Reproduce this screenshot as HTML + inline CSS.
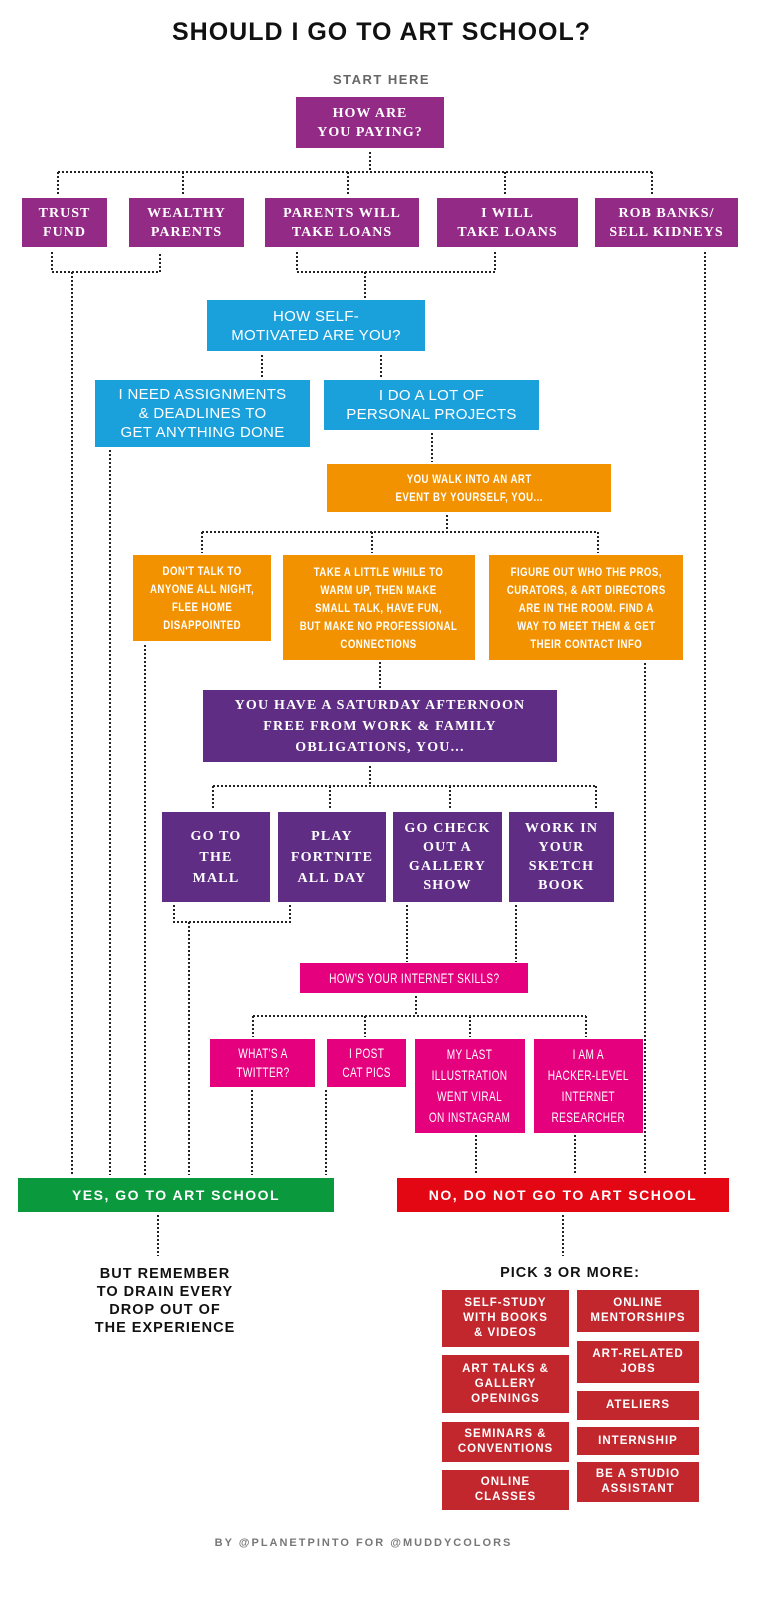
<!DOCTYPE html>
<html><head><meta charset="utf-8"><style>
*{margin:0;padding:0;box-sizing:border-box}
body{width:763px;height:1600px;background:#fff;position:relative;overflow:hidden;font-family:"Liberation Sans",sans-serif}
.b{position:absolute;display:flex;align-items:center;justify-content:center;text-align:center;color:#fff;text-transform:uppercase}
.b>span{display:inline-block;white-space:nowrap}
.p{background:#932a85;font-family:"Liberation Serif",serif;font-weight:bold;font-size:14px;line-height:19px;letter-spacing:1px}
.v{background:#5f2d84;font-family:"Liberation Serif",serif;font-weight:bold;font-size:14px;line-height:21px;letter-spacing:1.2px}
.c{background:#1aa1dc;font-size:15px;line-height:19px;letter-spacing:.3px}
.o{background:#f39200;font-weight:bold;font-size:12px;line-height:18px;letter-spacing:.6px}
.o>span{transform:scaleX(.8)}
.k{background:#e5007e;font-size:14px;line-height:19px;letter-spacing:.5px}
.k>span{transform:scaleX(.72)}
.r{background:#c1272d;font-weight:bold;font-size:11.5px;line-height:15px;letter-spacing:1px}
.t{position:absolute;text-align:center;font-weight:bold}
svg{position:absolute;left:0;top:0}
</style></head><body>
<div class="t" style="left:0;width:763px;top:18px;font-size:25px;letter-spacing:1px;color:#111">SHOULD I GO TO ART SCHOOL?</div>
<div class="t" style="left:0;width:763px;top:72px;font-size:13px;letter-spacing:1.5px;color:#666">START HERE</div>
<svg width="763" height="1600" fill="none" stroke="#222" stroke-width="2" stroke-dasharray="2 2">
<path d="M370 152V172M58 172H652M58 172V196M183 172V196M348 172V196M505 172V196M652 172V196"/>
<path d="M52 252V272H160V252M72 272V1175M297 252V272H495V252M365 272V298M705 252V1175"/>
<path d="M262 355V378M381 355V378M110 450V1175M432 433V462"/>
<path d="M447 515V532M202 532H598M202 532V553M372 532V553M598 532V553M145 645V1175M645 663V1175M380 662V688"/>
<path d="M370 766V786M213 786H596M213 786V810M330 786V810M450 786V810M596 786V810"/>
<path d="M174 905V922H290V905M189 922V1175M407 905V962M516 905V962"/>
<path d="M416 996V1016M253 1016H586M253 1016V1037M365 1016V1037M470 1016V1037M586 1016V1037"/>
<path d="M252 1090V1175M326 1090V1175M476 1135V1173M575 1135V1173M158 1215V1256M563 1215V1256"/>
</svg>
<div class="b p" style="left:296px;top:97px;width:148px;height:51px">How are<br>you paying?</div>
<div class="b p" style="left:22px;top:198px;width:85px;height:49px">Trust<br>fund</div>
<div class="b p" style="left:129px;top:198px;width:115px;height:49px">Wealthy<br>parents</div>
<div class="b p" style="left:265px;top:198px;width:154px;height:49px">Parents will<br>take loans</div>
<div class="b p" style="left:437px;top:198px;width:141px;height:49px">I will<br>take loans</div>
<div class="b p" style="left:595px;top:198px;width:143px;height:49px">Rob banks/<br>sell kidneys</div>
<div class="b c" style="left:207px;top:300px;width:218px;height:51px">How self-<br>motivated are you?</div>
<div class="b c" style="left:95px;top:380px;width:215px;height:67px">I need assignments<br>&amp; deadlines to<br>get anything done</div>
<div class="b c" style="left:324px;top:380px;width:215px;height:50px">I do a lot of<br>personal projects</div>
<div class="b o" style="left:327px;top:464px;width:284px;height:48px"><span>You walk into an art<br>event by yourself, you...</span></div>
<div class="b o" style="left:133px;top:555px;width:138px;height:86px"><span>Don't talk to<br>anyone all night,<br>flee home<br>disappointed</span></div>
<div class="b o" style="left:283px;top:555px;width:192px;height:105px"><span>Take a little while to<br>warm up, then make<br>small talk, have fun,<br>but make no professional<br>connections</span></div>
<div class="b o" style="left:489px;top:555px;width:194px;height:105px"><span>Figure out who the pros,<br>curators, &amp; art directors<br>are in the room. Find a<br>way to meet them &amp; get<br>their contact info</span></div>
<div class="b v" style="left:203px;top:690px;width:354px;height:72px">You have a Saturday afternoon<br>free from work &amp; family<br>obligations, you...</div>
<div class="b v" style="left:162px;top:812px;width:108px;height:90px">Go to<br>the<br>mall</div>
<div class="b v" style="left:278px;top:812px;width:108px;height:90px">Play<br>Fortnite<br>all day</div>
<div class="b v" style="left:393px;top:812px;width:109px;height:90px;line-height:19px">Go check<br>out a<br>gallery<br>show</div>
<div class="b v" style="left:509px;top:812px;width:105px;height:90px;line-height:19px">Work in<br>your<br>sketch<br>book</div>
<div class="b k" style="left:300px;top:963px;width:228px;height:30px"><span>How's your internet skills?</span></div>
<div class="b k" style="left:210px;top:1039px;width:105px;height:48px"><span>What's a<br>twitter?</span></div>
<div class="b k" style="left:327px;top:1039px;width:79px;height:48px"><span>I post<br>cat pics</span></div>
<div class="b k" style="left:415px;top:1039px;width:110px;height:94px;line-height:21px"><span>My last<br>illustration<br>went viral<br>on Instagram</span></div>
<div class="b k" style="left:534px;top:1039px;width:109px;height:94px;line-height:21px"><span>I am a<br>hacker-level<br>internet<br>researcher</span></div>
<div class="b" style="left:18px;top:1178px;width:316px;height:34px;background:#0a9a3d;font-weight:bold;font-size:14px;letter-spacing:1.5px">Yes, go to art school</div>
<div class="b" style="left:397px;top:1178px;width:332px;height:34px;background:#e30613;font-weight:bold;font-size:14px;letter-spacing:1.5px">No, do not go to art school</div>
<div class="t" style="left:60px;width:210px;top:1265px;font-size:14.5px;line-height:18px;letter-spacing:1px;color:#111">BUT REMEMBER<br>TO DRAIN EVERY<br>DROP OUT OF<br>THE EXPERIENCE</div>
<div class="t" style="left:440px;width:260px;top:1265px;font-size:14.5px;letter-spacing:1px;color:#111">PICK 3 OR MORE:</div>
<div class="b r" style="left:442px;top:1290px;width:127px;height:57px">Self-study<br>with books<br>&amp; videos</div>
<div class="b r" style="left:442px;top:1355px;width:127px;height:58px">Art talks &amp;<br>gallery<br>openings</div>
<div class="b r" style="left:442px;top:1422px;width:127px;height:40px">Seminars &amp;<br>conventions</div>
<div class="b r" style="left:442px;top:1470px;width:127px;height:40px">Online<br>classes</div>
<div class="b r" style="left:577px;top:1290px;width:122px;height:42px">Online<br>mentorships</div>
<div class="b r" style="left:577px;top:1341px;width:122px;height:42px">Art-related<br>jobs</div>
<div class="b r" style="left:577px;top:1391px;width:122px;height:29px">Ateliers</div>
<div class="b r" style="left:577px;top:1427px;width:122px;height:28px">Internship</div>
<div class="b r" style="left:577px;top:1462px;width:122px;height:40px">Be a studio<br>assistant</div>
<div class="t" style="left:0;width:727px;top:1537px;font-size:11px;letter-spacing:2px;color:#777">BY @PLANETPINTO FOR @MUDDYCOLORS</div>
</body></html>
